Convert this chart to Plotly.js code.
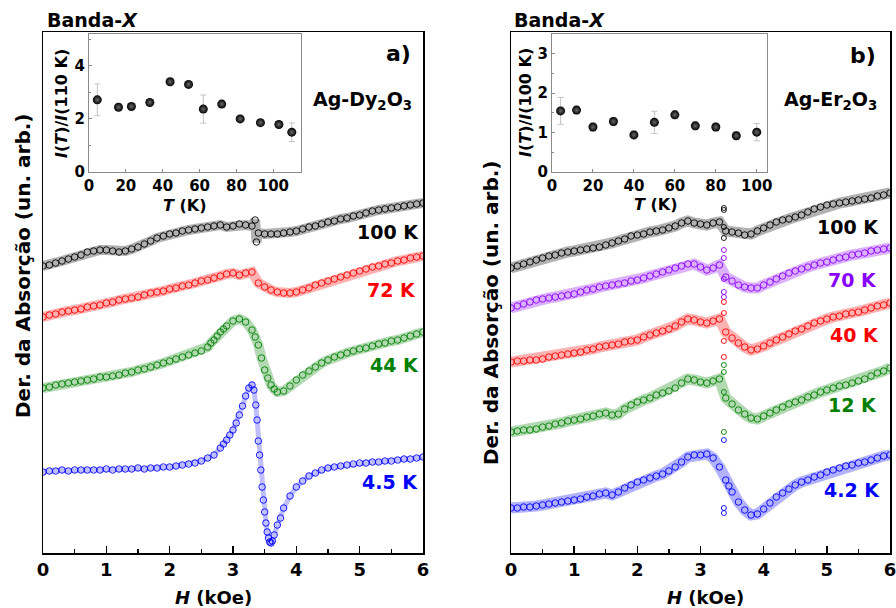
<!DOCTYPE html>
<html>
<head>
<meta charset="utf-8">
<script src="https://cdn.plot.ly/plotly-3.0.1.min.js"></script>
<style>
html,body{margin:0;padding:0;background:#fff;}
#chart{width:896px;height:608px;}
</style>
</head>
<body>
<div id="chart"></div>
<script>
// ---------- field grid (kOe) ----------
const H_GRID = [0.0,0.1,0.2,0.3,0.4,0.5,0.6,0.7,0.8,0.9,1.0,1.1,1.2,1.3,1.4,1.5,1.6,1.7,1.8,1.9,
  2.0,2.1,2.2,2.3,2.4,2.5,2.6,2.7,2.8,2.9,3.0,3.1,3.2,3.3,3.4,3.5,3.6,3.7,3.8,3.9,
  4.0,4.1,4.2,4.3,4.4,4.5,4.6,4.7,4.8,4.9,5.0,5.1,5.2,5.3,5.4,5.5,5.6,5.7,5.8,5.9,6.0];

// ---------- panel a) Ag-Dy2O3 (arb. units, offset curves) ----------
const dy100K = [28.7,28.8,29.0,29.2,29.4,29.6,29.8,30.1,30.2,30.3,30.3,30.2,30.1,30.2,30.4,30.6,30.9,31.2,31.5,31.7,
  31.9,32.0,32.2,32.3,32.4,32.5,32.6,32.7,32.8,32.6,32.7,32.9,32.8,32.7,32.0,31.9,31.9,31.9,32.0,32.1,
  32.2,32.4,32.6,32.7,32.9,33.1,33.2,33.4,33.5,33.7,33.8,34.0,34.2,34.3,34.4,34.5,34.6,34.7,34.8,34.9,35.0];
const dy100K_extraH = [3.35,3.37];
const dy100K_extraV = [33.3,31.1];

const dy72K = [23.6,23.8,23.9,24.1,24.2,24.3,24.4,24.6,24.7,24.8,25.0,25.1,25.3,25.4,25.5,25.6,25.8,26.0,26.1,26.2,
  26.4,26.5,26.7,26.8,27.0,27.2,27.3,27.5,27.7,27.9,28.0,27.8,28.0,28.1,27.0,26.6,26.3,26.1,26.0,26.0,
  26.1,26.3,26.5,26.8,27.0,27.2,27.4,27.6,27.8,28.0,28.2,28.4,28.6,28.7,28.9,29.0,29.2,29.3,29.5,29.6,29.7];

const dy44K = [16.5,16.6,16.8,16.9,17.0,17.1,17.2,17.3,17.4,17.6,17.6,17.7,17.8,18.0,18.1,18.3,18.4,18.6,18.8,19.0,
  19.2,19.4,19.6,19.8,20.0,20.2,20.6,21.3,22.1,22.7,23.2,23.4,23.1,22.3,20.8,18.3,16.8,16.1,16.2,16.7,
  17.3,17.8,18.2,18.6,19.0,19.3,19.6,19.8,20.0,20.2,20.4,20.5,20.7,20.9,21.0,21.2,21.3,21.5,21.7,21.9,22.1];
const dy44K_extraH = [2.65,2.75,2.85,3.35,3.45,3.55,3.65];
const dy44K_extraV = [21.0,21.7,22.4,21.6,19.5,17.5,16.4];

const dy4K = [8.1,8.2,8.2,8.3,8.2,8.3,8.3,8.3,8.3,8.3,8.4,8.3,8.4,8.4,8.4,8.5,8.4,8.5,8.5,8.6,
  8.6,8.7,8.8,8.9,9.0,9.2,9.5,9.8,10.5,11.3,12.3,13.8,15.7,16.8,11.2,4.1,1.0,2.8,4.5,5.7,
  6.6,7.2,7.7,8.0,8.3,8.5,8.6,8.7,8.8,8.9,9.0,9.0,9.1,9.1,9.2,9.2,9.3,9.4,9.4,9.5,9.6];
const dy4K_extraH = [2.85,2.95,3.05,3.15,3.25,3.33,3.36,3.38,3.42,3.44,3.46,3.48,3.52,3.54,3.56,3.58,3.62,3.65,3.75];
const dy4K_extraV = [10.9,11.8,13.0,14.7,16.5,16.3,14.8,13.3,9.8,8.3,6.6,5.3,3.0,2.1,1.5,1.1,1.2,1.8,3.5];

// ---------- panel b) Ag-Er2O3 ----------
const er100K = [28.5,28.7,28.9,29.1,29.3,29.5,29.7,29.8,30.0,30.1,30.2,30.3,30.4,30.5,30.6,30.8,31.0,31.2,31.4,31.7,
  31.8,31.9,32.1,32.2,32.3,32.5,32.7,33.0,33.2,33.0,32.9,32.8,33.0,33.1,32.2,32.1,32.0,31.8,31.9,32.2,
  32.5,32.8,33.1,33.3,33.4,33.6,33.8,34.1,34.4,34.6,34.8,34.9,35.0,35.1,35.2,35.3,35.4,35.5,35.7,35.8,36.0];
const er100K_spikeH = [3.37,3.37,3.37,3.37];
const er100K_spikeV = [34.5,34.3,32.6,31.5];

const er70K = [24.5,24.7,24.9,25.1,25.3,25.4,25.5,25.6,25.7,25.8,25.9,26.1,26.3,26.4,26.6,26.7,26.8,26.9,27.0,27.2,
  27.3,27.5,27.7,27.9,28.1,28.3,28.5,28.7,28.9,28.9,28.6,28.3,28.5,28.8,27.6,27.2,26.8,26.6,26.5,26.5,
  26.8,27.1,27.4,27.7,28.0,28.2,28.4,28.6,28.8,29.0,29.1,29.3,29.5,29.6,29.8,29.9,30.0,30.2,30.3,30.4,30.5];
const er70K_spikeH = [3.37,3.37,3.37,3.37,3.37];
const er70K_spikeV = [30.3,29.5,27.4,26.1,25.6];

const er40K = [19.1,19.2,19.2,19.3,19.3,19.4,19.6,19.7,19.8,19.9,20.0,20.1,20.3,20.4,20.6,20.7,20.8,20.9,21.1,21.2,
  21.3,21.6,21.8,22.0,22.2,22.4,22.7,23.1,23.4,23.3,23.1,23.0,23.2,23.4,22.1,21.5,21.0,20.6,20.3,20.4,
  20.7,21.0,21.3,21.6,21.9,22.2,22.4,22.7,23.0,23.2,23.4,23.6,23.7,23.9,24.0,24.1,24.3,24.5,24.7,24.8,25.0];
const er40K_spikeH = [3.37,3.37,3.37,3.37];
const er40K_spikeV = [25.1,24.0,21.2,19.6];

const er12K = [12.1,12.2,12.3,12.3,12.4,12.6,12.7,12.9,13.0,13.2,13.3,13.4,13.6,13.7,13.9,14.0,13.8,13.9,14.4,14.8,
  15.1,15.3,15.5,15.8,16.0,16.2,16.5,17.0,17.4,17.3,17.1,17.0,17.2,17.4,15.5,14.9,14.3,13.9,13.5,13.4,
  13.7,14.0,14.3,14.6,14.9,15.1,15.3,15.6,15.8,16.1,16.3,16.5,16.7,16.8,17.0,17.2,17.4,17.7,18.0,18.2,18.5];
const er12K_spikeH = [3.37,3.37,3.37,3.37];
const er12K_spikeV = [18.8,18.1,16.1,12.1];

const er4K = [4.5,4.5,4.6,4.6,4.7,4.8,4.9,5.0,5.1,5.2,5.3,5.4,5.6,5.7,5.9,6.0,5.8,6.1,6.5,6.8,
  7.1,7.3,7.5,7.7,7.9,8.2,8.6,9.1,9.6,9.8,9.8,9.9,9.5,8.6,7.3,6.1,5.1,4.3,3.8,3.9,
  4.4,5.0,5.6,6.0,6.4,6.8,7.1,7.3,7.6,7.8,8.1,8.3,8.5,8.7,8.8,9.0,9.1,9.3,9.5,9.7,9.8];
const er4K_extraH = [3.45];
const er4K_extraV = [6.7];
const er4K_spikeH = [3.37,3.37,3.37];
const er4K_spikeV = [11.3,4.5,4.0];

// ---------- insets ----------
const dyT   = [4.5,16,23,33,44,54,62,72,82,93,103,110];
const dyRat = [2.72,2.44,2.47,2.62,3.40,3.30,2.37,2.56,2.00,1.86,1.79,1.50];
const dyErr = [0.60,0.10,0.10,0.10,0.10,0.10,0.53,0.10,0.10,0.10,0.10,0.35];
const erT   = [4.2,12,20,30,40,50,60,70,80,90,100];
const erRat = [1.55,1.57,1.14,1.28,0.94,1.26,1.45,1.17,1.14,0.92,1.01];
const erErr = [0.34,0.10,0.10,0.10,0.10,0.28,0.10,0.10,0.10,0.10,0.22];

// ---------- labels ----------
const labelsA = ['100 K','72 K','44 K','4.5 K'];
const labelsB = ['100 K','70 K','40 K','12 K','4.2 K'];

// ---------- build ----------
const FONT = 'DejaVu Sans';
const W = 896, Hh = 608;
const px = x => x / W;
const py = y => 1 - y / Hh;

function merged(h1, v1, h2, v2) {
  const pts = h1.map((h, i) => [h, v1[i]]);
  if (h2) h2.forEach((h, i) => pts.push([h, v2[i]]));
  pts.sort((a, b) => a[0] - b[0]);
  return {x: pts.map(p => p[0]), y: pts.map(p => p[1])};
}
function rgba(hex, a) {
  const r = parseInt(hex.slice(1,3),16), g = parseInt(hex.slice(3,5),16), b = parseInt(hex.slice(5,7),16);
  return `rgba(${r},${g},${b},${a})`;
}
function curve(d, col, xa, ya, bandW, bandA) {
  return {x: d.x, y: d.y, xaxis: xa, yaxis: ya, mode: 'lines+markers', hoverinfo: 'skip', showlegend: false,
    line: {color: rgba(col, bandA), width: bandW},
    marker: {symbol: 'circle-open', size: 6.5, color: col, line: {color: col, width: 0.9}}};
}
function spikes(h, v, col, xa, ya) {
  return {x: h, y: v, xaxis: xa, yaxis: ya, mode: 'markers', hoverinfo: 'skip', showlegend: false,
    marker: {symbol: 'circle-open', size: 5, color: col, line: {color: col, width: 0.9}}};
}

const BLACK = '#000000', RED = '#ff0000', GREEN = '#008000', BLUE = '#0000ff', PURPLE = '#8a00ff';

const traces = [
  curve(merged(H_GRID, dy100K, dy100K_extraH, dy100K_extraV), BLACK, 'x', 'y', 10, 0.3),
  curve(merged(H_GRID, dy72K), RED, 'x', 'y', 10, 0.3),
  curve(merged(H_GRID, dy44K, dy44K_extraH, dy44K_extraV), GREEN, 'x', 'y', 10, 0.3),
  curve(merged(H_GRID, dy4K, dy4K_extraH, dy4K_extraV), BLUE, 'x', 'y', 5, 0.25),

  curve(merged(H_GRID, er100K), BLACK, 'x2', 'y2', 11, 0.3),
  spikes(er100K_spikeH, er100K_spikeV, BLACK, 'x2', 'y2'),
  curve(merged(H_GRID, er70K), PURPLE, 'x2', 'y2', 11, 0.3),
  spikes(er70K_spikeH, er70K_spikeV, PURPLE, 'x2', 'y2'),
  curve(merged(H_GRID, er40K), RED, 'x2', 'y2', 11, 0.3),
  spikes(er40K_spikeH, er40K_spikeV, RED, 'x2', 'y2'),
  curve(merged(H_GRID, er12K), GREEN, 'x2', 'y2', 11, 0.3),
  spikes(er12K_spikeH, er12K_spikeV, GREEN, 'x2', 'y2'),
  curve(merged(H_GRID, er4K, er4K_extraH, er4K_extraV), BLUE, 'x2', 'y2', 11, 0.3),
  spikes(er4K_spikeH, er4K_spikeV, BLUE, 'x2', 'y2'),

  {x: dyT, y: dyRat, xaxis: 'x3', yaxis: 'y3', mode: 'markers', hoverinfo: 'skip', showlegend: false,
   error_y: {type: 'data', array: dyErr, color: '#c4c4c4', thickness: 1, width: 3},
   marker: {size: 9, color: '#000', gradient: {type: 'radial', color: '#6a6a6a'}, line: {width: 0}}},
  {x: erT, y: erRat, xaxis: 'x4', yaxis: 'y4', mode: 'markers', hoverinfo: 'skip', showlegend: false,
   error_y: {type: 'data', array: erErr, color: '#c4c4c4', thickness: 1, width: 3},
   marker: {size: 9, color: '#000', gradient: {type: 'radial', color: '#6a6a6a'}, line: {width: 0}}}
];

const fBold = (size, color) => ({family: FONT, size: size, color: color || '#000', weight: 'bold'});

function mainX(dom, anchor) {
  return {domain: dom, anchor: anchor, range: [0, 6], showline: true, mirror: true, linecolor: '#000', linewidth: 1.5,
    ticks: 'inside', ticklen: 7, tickwidth: 1.5, tickcolor: '#000', dtick: 1, tick0: 0,
    tickvals: [0, 1, 2, 3, 4, 5, 6], ticktext: ['0', '1', '2', '3', '4', '5', '6'],
    ticklabeloverflow: 'allow',
    minor: {tickvals: [0.5, 1.5, 2.5, 3.5, 4.5, 5.5], ticks: 'inside', ticklen: 4, tickwidth: 1.2, tickcolor: '#000'},
    tickfont: fBold(18), showgrid: false, zeroline: false, fixedrange: true};
}
function mainY(dom, anchor) {
  return {domain: dom, range: [0, 52.1], anchor: anchor, showline: true, mirror: true, linecolor: '#000', linewidth: 1.5,
    ticks: '', showticklabels: false, showgrid: false, zeroline: false, fixedrange: true};
}
function insetX(dom, anchor, rng) {
  return {domain: dom, anchor: anchor, range: rng, showline: true, mirror: true, linecolor: '#8a8a8a', linewidth: 1,
    ticks: 'inside', ticklen: 3, tickcolor: '#8a8a8a', dtick: 20, tick0: 0, ticklabeloverflow: 'allow',
    tickfont: fBold(15), showgrid: false, zeroline: false, fixedrange: true};
}
function insetY(dom, anchor, rng, dt, mdt) {
  return {domain: dom, anchor: anchor, range: rng, showline: true, mirror: true, linecolor: '#8a8a8a', linewidth: 1,
    ticks: 'inside', ticklen: 3, tickcolor: '#8a8a8a', dtick: dt, tick0: 0, ticklabeloverflow: 'allow',
    minor: {dtick: mdt, ticks: 'inside', ticklen: 2, tickcolor: '#8a8a8a'},
    tickfont: fBold(15), showgrid: false, zeroline: false, fixedrange: true};
}

const yDomMain = [py(553), py(32)];
const yDomInset = [py(172), py(34)];

function ann(x, y, text, size, color, xanchor, angle) {
  return {xref: 'paper', yref: 'paper', x: px(x), y: py(y), text: text, showarrow: false,
    xanchor: xanchor || 'center', yanchor: 'middle', textangle: angle || 0, font: fBold(size, color)};
}

const annotations = [
  ann(45, 19.5, 'Banda-<i>X</i>', 19, '#000', 'left'),
  ann(512, 19.5, 'Banda-<i>X</i>', 19, '#000', 'left'),
  ann(413, 54, 'a)', 22, '#000', 'right'),
  ann(878, 56, 'b)', 22, '#000', 'right'),
  ann(414, 100, 'Ag-Dy<sub>2</sub>O<sub>3</sub>', 19, '#000', 'right'),
  ann(879, 100, 'Ag-Er<sub>2</sub>O<sub>3</sub>', 19, '#000', 'right'),

  ann(421, 232, labelsA[0], 19, BLACK, 'right'),
  ann(418, 290, labelsA[1], 19, RED, 'right'),
  ann(421, 365, labelsA[2], 19, GREEN, 'right'),
  ann(420, 482, labelsA[3], 19, BLUE, 'right'),

  ann(881, 227, labelsB[0], 19, BLACK, 'right'),
  ann(879, 280, labelsB[1], 19, PURPLE, 'right'),
  ann(881, 335, labelsB[2], 19, RED, 'right'),
  ann(879, 405, labelsB[3], 19, GREEN, 'right'),
  ann(882, 490, labelsB[4], 19, BLUE, 'right'),

  ann(23, 266, 'Der. da Absorção (un. arb.)', 20, '#000', 'center', -90),
  ann(491, 313, 'Der. da Absorção (un. arb.)', 20, '#000', 'center', -90),
  ann(213, 597, '<i>H</i> (kOe)', 18, '#000'),
  ann(705, 597, '<i>H</i> (kOe)', 18, '#000'),

  ann(62, 104, '<i>I</i>(<i>T</i>)/<i>I</i>(110 K)', 16, '#000', 'center', -90),
  ann(525, 103, '<i>I</i>(<i>T</i>)/<i>I</i>(100 K)', 16, '#000', 'center', -90),
  ann(185, 205, '<i>T</i> (K)', 16, '#000'),
  ann(656, 204, '<i>T</i> (K)', 16, '#000')
];

const layout = {
  width: W, height: Hh,
  margin: {l: 0, r: 0, t: 0, b: 0, pad: 0},
  paper_bgcolor: '#fff', plot_bgcolor: 'rgba(0,0,0,0)',
  showlegend: false,
  font: {family: FONT, color: '#000'},
  xaxis: mainX([px(43), px(423)], 'y'),
  yaxis: mainY(yDomMain, 'x'),
  xaxis2: mainX([px(511), px(890)], 'y2'),
  yaxis2: mainY(yDomMain, 'x2'),
  xaxis3: insetX([px(89), px(301)], 'y3', [0, 115]),
  yaxis3: insetY(yDomInset, 'x3', [0, 5.2], 2, 1),
  xaxis4: insetX([px(552), px(767)], 'y4', [0, 105]),
  yaxis4: insetY(yDomInset, 'x4', [0, 3.5], 1, 0.5),
  annotations: annotations
};

Plotly.newPlot('chart', traces, layout, {staticPlot: true, displayModeBar: false});
</script>
</body>
</html>
